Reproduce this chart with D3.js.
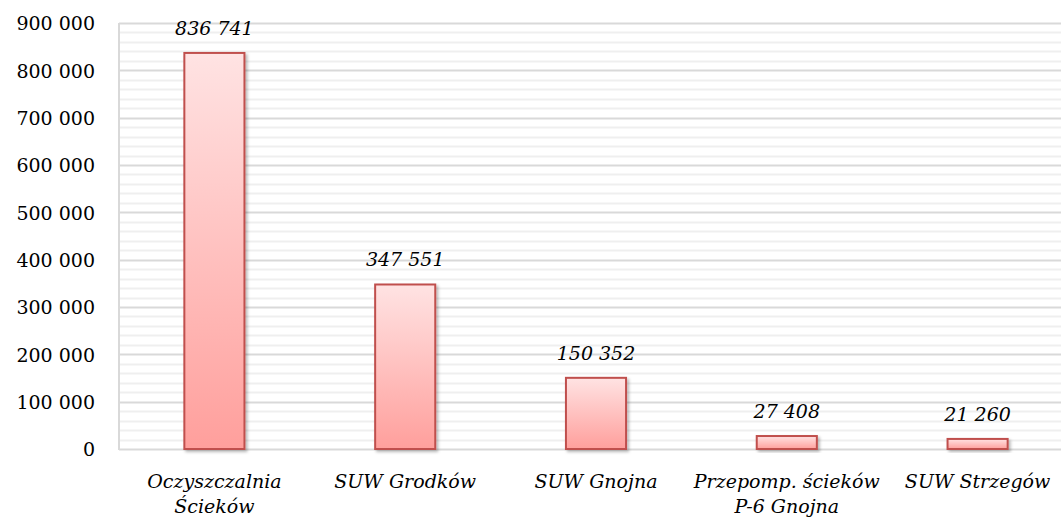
<!DOCTYPE html>
<html>
<head>
<meta charset="utf-8">
<script src="https://cdn.jsdelivr.net/npm/d3@7"></script>
<style>
  html, body { margin: 0; padding: 0; background: #fff; }
  svg { display: block; }
</style>
</head>
<body>
<svg id="chart" width="1061" height="519"></svg>
<script>
// Categories (multi-line labels) and their values
const categories = [
  ["Oczyszczalnia", "Ścieków"],
  ["SUW Grodków"],
  ["SUW Gnojna"],
  ["Przepomp. ścieków", "P-6 Gnojna"],
  ["SUW Strzegów"]
];
const values = [836741, 347551, 150352, 27408, 21260];
const yTicks = [0, 100000, 200000, 300000, 400000, 500000, 600000, 700000, 800000, 900000];
const yMinorTicks = d3.range(0, 900001, 20000);

const fmt = v => d3.format(",")(v).replace(/,/g, " ");

const svg = d3.select("#chart");
const plotLeft = 119, plotRight = 1073, plotTop = 23, plotBottom = 449;

const keys = categories.map((c, i) => i);
const x = d3.scaleBand().domain(keys).range([plotLeft, plotRight])
  .paddingInner(0.685).paddingOuter(0.3425);
const y = d3.scaleLinear().domain([0, 900000]).range([plotBottom, plotTop]);

const defs = svg.append("defs");
const grad = defs.append("linearGradient").attr("id", "barFill")
  .attr("x1", 0).attr("y1", 0).attr("x2", 0).attr("y2", 1);
grad.append("stop").attr("offset", "0%").attr("stop-color", "#ffe3e3");
grad.append("stop").attr("offset", "100%").attr("stop-color", "#ff9f9c");

const shadow = defs.append("filter").attr("id", "shadow")
  .attr("x", "-20%").attr("y", "-20%").attr("width", "150%").attr("height", "150%");
shadow.append("feDropShadow").attr("dx", 2).attr("dy", 2).attr("stdDeviation", 1.6)
  .attr("flood-color", "#000").attr("flood-opacity", 0.28);

// minor gridlines
svg.append("g").selectAll("line").data(yMinorTicks.filter(v => v % 100000 !== 0))
  .join("line")
  .attr("x1", plotLeft).attr("x2", 1061)
  .attr("y1", d => Math.round(y(d)) + 0.5).attr("y2", d => Math.round(y(d)) + 0.5)
  .attr("stroke", "#efefef").attr("stroke-width", 2);

// major gridlines
svg.append("g").selectAll("line").data(yTicks)
  .join("line")
  .attr("x1", plotLeft).attr("x2", 1061)
  .attr("y1", d => Math.round(y(d)) + 0.5).attr("y2", d => Math.round(y(d)) + 0.5)
  .attr("stroke", "#d9d9d9").attr("stroke-width", 2);

// left axis line
svg.append("line")
  .attr("x1", plotLeft).attr("x2", plotLeft).attr("y1", plotTop).attr("y2", plotBottom + 1)
  .attr("stroke", "#d9d9d9").attr("stroke-width", 2);

// y axis labels
const yAxis = d3.axisLeft(y).tickValues(yTicks).tickSize(0).tickPadding(0).tickFormat(fmt);
const ya = svg.append("g").attr("transform", `translate(${plotLeft - 24},0)`).call(yAxis);
ya.select(".domain").remove();
ya.selectAll("text")
  .attr("font-family", "'DejaVu Serif', serif")
  .attr("font-size", 19)
  .attr("fill", "#000")
  .attr("dy", "0.36em");

// bars
svg.append("g").selectAll("rect").data(values)
  .join("rect")
  .attr("x", (d, i) => x(i))
  .attr("y", d => y(d))
  .attr("width", x.bandwidth())
  .attr("height", d => y(0) - y(d))
  .attr("fill", "url(#barFill)")
  .attr("stroke", "#c0504d")
  .attr("stroke-width", 2)
  .attr("filter", "url(#shadow)");

// value labels
svg.append("g").selectAll("text").data(values)
  .join("text")
  .attr("x", (d, i) => x(i) + x.bandwidth() / 2)
  .attr("y", d => y(d) - 18)
  .attr("text-anchor", "middle")
  .attr("font-family", "'DejaVu Serif', serif")
  .attr("font-style", "italic")
  .attr("font-size", 19)
  .attr("fill", "#000")
  .text(d => fmt(d));

// category labels
const cat = svg.append("g").selectAll("text").data(categories)
  .join("text")
  .attr("x", (d, i) => x(i) + x.bandwidth() / 2)
  .attr("y", 488)
  .attr("text-anchor", "middle")
  .attr("font-family", "'DejaVu Serif', serif")
  .attr("font-style", "italic")
  .attr("font-size", 19)
  .attr("fill", "#000");
cat.selectAll("tspan").data(d => d)
  .join("tspan")
  .attr("x", function () { return this.parentNode.getAttribute("x"); })
  .attr("dy", (d, i) => i === 0 ? 0 : 25)
  .text(d => d);
</script>
</body>
</html>
